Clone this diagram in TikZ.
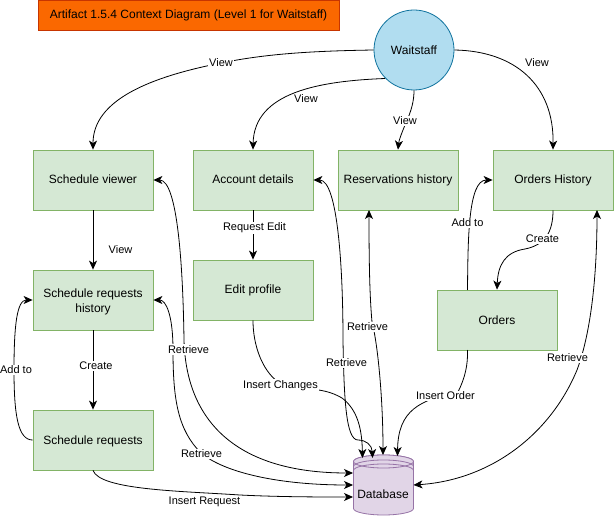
\documentclass[tikz,border=0pt]{standalone}
\usepackage{fontspec}
\setmainfont{Liberation Sans}
\usetikzlibrary{arrows.meta,calc}
\definecolor{boxfill}{HTML}{D5E8D4}\definecolor{boxline}{HTML}{82B366}
\definecolor{titlefill}{HTML}{FA6800}\definecolor{titleline}{HTML}{C73500}
\definecolor{circfill}{HTML}{B1DDF0}\definecolor{circline}{HTML}{10739E}
\definecolor{dbfill}{HTML}{E1D5E7}\definecolor{dbline}{HTML}{9673A6}
\tikzset{
  tip/.tip={Stealth[length=9pt,width=8pt,inset=2.5pt]},
  procbox/.style={draw=boxline,fill=boxfill,line width=0.8pt,minimum width=120pt,minimum height=60pt,inner sep=1pt,font=\fontsize{12}{15}\selectfont,text height=11pt,text depth=3pt},
  emptybox/.style={draw=boxline,fill=boxfill,line width=0.8pt,minimum width=120pt,minimum height=60pt,inner sep=0pt},
  flow/.style={draw=black,line width=0.8pt,-{tip}},
  both/.style={draw=black,line width=0.8pt,{tip}-{tip}},
  plainlabel/.style={font=\fontsize{11}{13}\selectfont,inner sep=1pt,yshift=-1pt},
  flowlabel/.style={plainlabel,fill=white},
}
\begin{document}
\begin{tikzpicture}[x=1pt,y=-1pt]
\useasboundingbox (0,0) rectangle (614,516);
\fill[white] (0,0) rectangle (614,516);
% nodes
\node[draw=titleline,fill=titlefill,line width=0.8pt,minimum width=301pt,minimum height=30pt,inner sep=1pt,font=\fontsize{12}{15}\selectfont] (title) at (188.5,15) {Artifact 1.5.4 Context Diagram (Level 1 for Waitstaff)};
\node[draw=circline,fill=circfill,line width=0.8pt,circle,minimum size=80pt,inner sep=0pt,font=\fontsize{12}{15}\selectfont] (wait) at (414,50) {Waitstaff};
\node[procbox] (sv) at (93,180) {Schedule viewer};
\node[procbox] (ad) at (253,180) {Account details};
\node[procbox] (rh) at (398,180) {Reservations history};
\node[procbox] (oh) at (553,180) {Orders History};
\node[emptybox] (srh) at (93,300) {};
\node[align=center,inner sep=1pt,font=\fontsize{12}{15}\selectfont] (srhtext) at (93,301.5) {Schedule requests\\history};
\node[procbox] (sr) at (93,440) {Schedule requests};
\node[procbox] (ep) at (253,290) {Edit profile};
\node[procbox] (or) at (497,320) {Orders};
% database
\path[draw=dbline,fill=dbfill,line width=0.8pt] (353.5,461.5) arc[start angle=180,end angle=360,x radius=30,y radius=6.5] -- (413.5,508.5) arc[start angle=0,end angle=180,x radius=30,y radius=6.5] -- cycle;
\path[draw=dbline,fill=dbfill,line width=0.8pt] (353.5,461.5) arc[start angle=180,end angle=-180,x radius=30,y radius=6.5];
\draw[dbline,line width=0.8pt] (353.5,466.5) arc[start angle=180,end angle=360,x radius=30,y radius=6.5];
\draw[dbline,line width=0.8pt] (353.5,470.5) arc[start angle=180,end angle=360,x radius=30,y radius=6.5];
\node[font=\fontsize{12}{15}\selectfont,inner sep=1pt] (dbtext) at (383,494) {Database};
% ports
\coordinate (waitsw) at (385,78.5);
\coordinate (rhdown) at (369,210);
\coordinate (ohdown) at (597,210);
\coordinate (oradd) at (467.5,290);
\coordinate (orout) at (467.5,350);
\coordinate (dbtopa) at (362.5,458);
\coordinate (dbtopb) at (372.5,458);
\coordinate (dbtopc) at (383,455);
\coordinate (dbtopd) at (397.5,456);
\coordinate (dbwa) at (353,473);
\coordinate (dbwb) at (353,485);
\coordinate (dbwc) at (353,497);
\coordinate (dbe) at (413.5,485);
% connectors
\draw[flow] (wait.west) .. controls (310,51) and (265,54) .. (221,63) .. controls (150,77) and (93,100) .. (sv.north);
\draw[flow] (waitsw) .. controls (320,81) and (254,92) .. (ad.north);
\draw[flow] (wait.south) .. controls (414,100) and (412,110) .. (405,125) .. controls (401,135) and (399,140) .. (rh.north);
\draw[flow] (wait.east) .. controls (515,51) and (554,85) .. (oh.north);
\draw[flow] (sv.south) -- (srh.north);
\draw[flow] (ad.south) -- (ep.north);
\draw[flow] (srh.south) -- (sr.north);
\draw[flow] (sr.west) .. controls (18,440) and (14,415) .. (14,370) .. controls (14,325) and (17,300) .. (srh.west);
\draw[both] (sv.east) .. controls (178,180) and (183,270) .. (184,340) .. controls (186,420) and (235,473) .. (dbwa);
\draw[both] (srh.east) .. controls (166,300) and (173,315) .. (173,350) .. controls (173,400) and (178,430) .. (201,453) .. controls (225,473) and (280,485) .. (dbwb);
\draw[both] (ad.east) .. controls (338,180) and (343,270) .. (343,340) .. controls (344,400) and (346,440) .. (358,440) .. controls (366,440) and (372,445) .. (dbtopb);
\draw[flow] (ep.south) .. controls (253,345) and (262,370) .. (278,382) .. controls (300,392) and (320,385) .. (342,398) .. controls (358,410) and (362,430) .. (dbtopa);
\draw[both] (rhdown) .. controls (369,270) and (370,300) .. (372,322) .. controls (378,345) and (383,400) .. (dbtopc);
\draw[flow] (orout) .. controls (468,365) and (465,378) .. (458,392) .. controls (420,400) and (398,410) .. (dbtopd);
\draw[both] (dbe) .. controls (490,480) and (550,435) .. (577,370) .. controls (592,330) and (597,270) .. (ohdown);
\draw[flow] (oradd) .. controls (468,240) and (468,180) .. (oh.west);
\draw[flow] (oh.south) .. controls (553,232) and (545,245) .. (525,249) .. controls (505,252) and (498,265) .. (or.north);
\draw[flow] (sr.south) .. controls (100,490) and (180,491) .. (240,495) .. controls (280,497) and (320,497) .. (dbwc);
% labels
\node[flowlabel] (l1) at (221,62) {View};
\node[flowlabel] (l2) at (306,98) {View};
\node[flowlabel] (l3) at (405,120) {View};
\node[flowlabel] (l4) at (537,62) {View};
\node[plainlabel] (l5) at (120.5,249) {View};
\node[flowlabel] (l6) at (254.5,227) {Request Edit};
\node[flowlabel] (l7) at (96,365) {Create};
\node[flowlabel] (l8) at (16,369) {Add to};
\node[flowlabel] (l9) at (188.5,348.5) {Retrieve};
\node[flowlabel] (l10) at (201.5,453) {Retrieve};
\node[flowlabel] (l11) at (346.5,362) {Retrieve};
\node[flowlabel] (l12) at (367.5,326) {Retrieve};
\node[flowlabel] (l13) at (280.5,384.5) {Insert Changes};
\node[flowlabel] (l14) at (445.5,395) {Insert Order};
\node[flowlabel] (l15) at (567.5,357) {Retrieve};
\node[flowlabel] (l16) at (467.5,222) {Add to};
\node[flowlabel] (l17) at (542.5,238) {Create};
\node[flowlabel] (l18) at (204.5,501) {Insert Request};
\end{tikzpicture}
\end{document}
